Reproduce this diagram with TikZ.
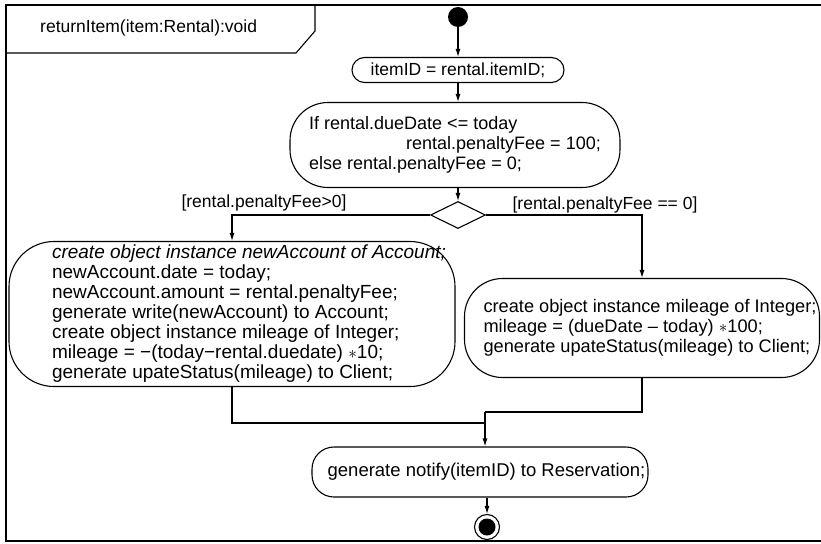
\documentclass[tikz,border=0pt]{standalone}
\usepackage{fontspec}
\setmainfont{Liberation Sans}
\usetikzlibrary{shapes.geometric,arrows.meta,calc}
\newcommand{\txtblock}[2]{\hspace*{#1}\begin{tabular}{@{}l@{}}#2\end{tabular}}
\begin{document}
\begin{tikzpicture}[x=1pt,y=-1pt,
  txt/.style={font=\fontsize{#1}{20}\selectfont},
  txt/.default=17.5,
  act/.style={draw, line width=1.1pt, rectangle, rounded corners=#1, inner sep=0pt},
  flow/.style={line width=1.1pt, -{Latex[length=8pt,width=5pt]}},
  plain/.style={line width=1.1pt},
  guard/.style={inner sep=0pt, txt}]
\useasboundingbox (0,0) rectangle (821,543);
% frame
\draw[plain] (821,5) -- (6,5) -- (6,541) -- (821,541);
\draw[plain] (6,53) -- (296,53) -- (315,31) -- (315,5);
\node[guard, anchor=west] (title) at (40,28) {returnItem(item:Rental):void};
% nodes
\node[circle, fill, minimum size=20pt, inner sep=0pt] (start) at (458,17) {};
\node[act=12.5pt, minimum width=212pt, minimum height=25pt, txt=17.5] (n1) at (458,70) {itemID = rental.itemID;};
\node[act=38pt, minimum width=330pt, minimum height=85pt, txt=18] (n2) at (455,145)
  {\txtblock{0pt}{If rental.dueDate <= today\\\hspace*{97pt}rental.penaltyFee = 100;\\else rental.penaltyFee = 0;}};
\node[diamond, draw, line width=1.1pt, minimum width=55pt, minimum height=27pt, inner sep=0pt] (dec) at (458,215) {};
\node[act=45pt, minimum width=446pt, minimum height=145pt, txt=19] (n3) at (232,314)
  {\txtblock{34pt}{{\itshape create object instance newAccount of Account;}\\
   newAccount.date = today;\\
   newAccount.amount = rental.penaltyFee;\\
   generate write(newAccount) to Account;\\
   create object instance mileage of Integer;\\
   mileage = −(today−rental.duedate) $\ast$10;\\
   generate upateStatus(mileage) to Client;}};
\node[act=38pt, minimum width=355pt, minimum height=99pt, txt=18.2] (n4) at (642,328)
  {\txtblock{16pt}{create object instance mileage of Integer;\\
   mileage = (dueDate – today) $\ast$100;\\
   generate upateStatus(mileage) to Client;}};
\node[act=22pt, minimum width=336pt, minimum height=50pt, txt=18.5] (n5) at (480,472)
  {\hspace*{13pt}generate notify(itemID) to Reservation;};
\node[circle, draw, line width=1.1pt, minimum size=25pt, inner sep=0pt] (end) at (487,527) {};
\fill (end.center) circle (8.5);
% guards
\node[guard] (g1) at (264,203) {[rental.penaltyFee>0]};
\node[guard] (g2) at (605,205) {[rental.penaltyFee == 0]};
% connectors
\draw[flow] (start) -- (n1);
\draw[flow] (n1.south) -- (n1.south |- n2.north);
\draw[flow] (n1.south |- n2.south) -- (dec.north);
\draw[flow] (dec.west) -| (n3.north);
\draw[flow] (dec.east) -| (n4.north);
\coordinate (join) at (485,412);
\coordinate (jl) at (485,423);
\draw[plain] (n3.south) |- (jl);
\draw[plain] (n4.south) |- (join);
\draw[flow] (join) -- (join |- n5.north);
\draw[flow] (end |- n5.south) -- (end.north);
\end{tikzpicture}
\end{document}
